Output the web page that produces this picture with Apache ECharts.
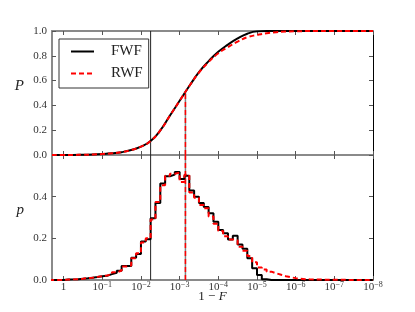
<!DOCTYPE html>
<html><head><meta charset="utf-8">
<script src="https://cdn.jsdelivr.net/npm/echarts@6/dist/echarts.min.js"></script>
<style>html,body{margin:0;padding:0;background:#fff}#c{width:415px;height:312px}</style>
</head><body><div id="c"></div>
<script>
// x values are decades: v = -log10(1 - F)
const xTicks = [0, 1, 2, 3, 4, 5, 6, 7, 8];
const cdfX   = [-0.3, 0, 0.25, 0.5, 0.75, 1.0, 1.25, 1.5, 1.75, 2.0, 2.25, 2.5, 2.75, 3.0, 3.25, 3.5, 3.75, 4.0, 4.25, 4.5, 4.75, 5.0, 5.25, 5.5, 5.75, 6.0, 6.5, 7.0, 7.5, 8.0];
const fwfCdf = [0, 0, 0.0005, 0.002, 0.004, 0.008, 0.014, 0.023, 0.04, 0.068, 0.113, 0.198, 0.318, 0.437, 0.556, 0.668, 0.757, 0.832, 0.89, 0.94, 0.978, 0.997, 1.0, 1.0, 1.0, 1.0, 1.0, 1.0, 1.0, 1.0];
const rwfCdf = [0, 0, 0.0005, 0.002, 0.004, 0.008, 0.014, 0.023, 0.04, 0.068, 0.113, 0.198, 0.318, 0.437, 0.556, 0.665, 0.75, 0.82, 0.87, 0.915, 0.95, 0.968, 0.982, 0.99, 0.995, 0.998, 0.9995, 1.0, 1.0, 1.0];
const binStart = -0.375;
const binWidth = 0.125;
const fwfHist = [0, 0, 0,
  0.002, 0.003, 0.004, 0.006, 0.008, 0.011, 0.014, 0.018, 0.02, 0.028,
  0.035, 0.045, 0.067, 0.067, 0.107, 0.125, 0.185, 0.196, 0.297, 0.37,
  0.463, 0.498, 0.506, 0.519, 0.485, 0.50, 0.43, 0.40, 0.37, 0.35,
  0.32, 0.28, 0.24, 0.225, 0.195, 0.212, 0.17, 0.15, 0.105, 0.056,
  0.024, 0.004, 0, 0, 0, 0, 0, 0, 0, 0,
  0, 0, 0, 0, 0, 0, 0, 0, 0, 0,
  0, 0, 0, 0];
const rwfHist = [0, 0, 0,
  0.002, 0.003, 0.004, 0.006, 0.009, 0.011, 0.015, 0.018, 0.022, 0.027,
  0.037, 0.045, 0.065, 0.07, 0.105, 0.128, 0.18, 0.2, 0.29, 0.375,
  0.455, 0.5, 0.51, 0.515, 0.47, 0.505, 0.42, 0.395, 0.36, 0.345,
  0.305, 0.27, 0.235, 0.21, 0.195, 0.19, 0.16, 0.14, 0.115, 0.085,
  0.06, 0.05, 0.04, 0.032, 0.025, 0.018, 0.013, 0.009, 0.006, 0.004,
  0.003, 0.002, 0.002, 0.0015, 0.001, 0.001, 0.001, 0.0008, 0.0006, 0.0005,
  0.0004, 0.0003, 0.0002, 0.0001];
const lowerCut = 2.25;
const medianFWF = 3.15;
const medianRWF = 3.15;
const medianP = 0.5;

const SERIF = '"Liberation Serif", "DejaVu Serif", serif';
const GRAY = '#8a8a8a';

function pairs(xs, ys) { return xs.map((x, i) => [x, ys[i]]); }
function steps(h) {
  const d = h.map((v, i) => [binStart + i * binWidth, v]);
  d.push([binStart + h.length * binWidth, h[h.length - 1]]);
  return d;
}

function xAx(grid, pos, labels) {
  return {
    type: 'value', gridIndex: grid, position: pos, min: -0.3, max: 8,
    axisLine: { show: true, onZero: false, lineStyle: { color: GRAY, width: 2 } },
    axisTick: { show: true, inside: true, length: 4, customValues: xTicks, lineStyle: { color: '#555', width: 1 } },
    splitLine: { show: false },
    axisLabel: labels ? {
      show: true, margin: 1, customValues: xTicks,
      formatter: v => v === 0 ? '{b|1}' : '{b|10}{s|\u2212' + v + '}',
      rich: {
        b: { fontFamily: SERIF, fontSize: 11, color: '#333', lineHeight: 12, verticalAlign: 'bottom' },
        s: { fontFamily: SERIF, fontSize: 8, color: '#333', lineHeight: 12, verticalAlign: 'top' }
      }
    } : { show: false }
  };
}
function yAx(grid, pos, max, labels, name) {
  const right = pos === 'right';
  return {
    type: 'value', gridIndex: grid, position: pos, min: 0, max: max, interval: 0.2,
    axisLine: { show: true, onZero: false, lineStyle: { color: right ? '#000' : GRAY, width: right ? 1 : 2 } },
    axisTick: { show: true, inside: true, length: 4, lineStyle: { color: '#555', width: 1 } },
    splitLine: { show: false },
    axisLabel: labels ? {
      show: true, margin: 5, fontFamily: SERIF, fontSize: 11, color: '#333',
      formatter: v => (v > max - 1e-9 && max < 1) ? '' : v.toFixed(1)
    } : { show: false },
    name: name || '', nameLocation: 'middle', nameRotate: 0, nameGap: 28, nameMoveOverlap: false,
    nameTextStyle: { fontFamily: SERIF, fontStyle: 'italic', fontSize: 15, color: '#222', lineHeight: 14, verticalAlign: 'bottom' }
  };
}

const xAxes = [xAx(0, 'bottom', false), xAx(0, 'top', false), xAx(1, 'bottom', true), xAx(1, 'top', false)];
xAxes[2].name = '{n|1 \u2212 }{i|F}';
xAxes[2].nameLocation = 'middle';
xAxes[2].nameGap = 10;
xAxes[2].nameMoveOverlap = false;
xAxes[2].nameTextStyle = { rich: {
  n: { fontFamily: SERIF, fontSize: 13, color: '#222' },
  i: { fontFamily: SERIF, fontSize: 13, fontStyle: 'italic', color: '#222' } } };

function vline(name, x, y0, y1, xi, yi, color, width, type, z) {
  return { name: name, type: 'line', xAxisIndex: xi, yAxisIndex: yi, data: [[x, y0], [x, y1]],
    symbol: 'none', silent: true, z: z, lineStyle: { color: color, width: width, type: type } };
}

const option = {
  animation: false,
  backgroundColor: '#fff',
  grid: [
    { left: 52, right: 42, top: 31, height: 124 },
    { left: 52, right: 42, top: 155, height: 125 }
  ],
  xAxis: xAxes,
  yAxis: [yAx(0, 'left', 1, true, 'P'), yAx(0, 'right', 1, false), yAx(1, 'left', 0.6, true, 'p'), yAx(1, 'right', 0.6, false)],
  legend: {
    data: ['FWF', 'RWF'], orient: 'vertical', left: 59, top: 39,
    borderColor: '#333', borderWidth: 1, borderRadius: 0, backgroundColor: '#fff',
    padding: [5, 6, 7, 11], itemWidth: 23, itemHeight: 14, itemGap: 7,
    itemStyle: { opacity: 0 },
    textStyle: { fontFamily: SERIF, fontSize: 15, color: '#222', padding: [0, 0, 0, 12], lineHeight: 14 },
    selectedMode: false
  },
  series: [
    vline('cut', lowerCut, 0, 1, 0, 0, '#222', 1, 'solid', 1),
    vline('medF', medianFWF, 0, medianP, 0, 0, '#808080', 1.5, 'solid', 1),
    vline('medR', medianRWF, 0, medianP, 0, 0, '#ff0000', 1.5, [5, 3], 2),
    vline('cut2', lowerCut, 0, 0.6, 2, 2, '#222', 1, 'solid', 1),
    vline('medF2', medianFWF, 0, 0.6, 2, 2, '#808080', 1.5, 'solid', 1),
    vline('medR2', medianRWF, 0, 0.6, 2, 2, '#ff0000', 1.5, [5, 3], 2),
    { name: 'FWF', type: 'line', xAxisIndex: 0, yAxisIndex: 0, data: pairs(cdfX, fwfCdf), symbol: 'none',
      smooth: 0.5, z: 3, color: '#000', lineStyle: { color: '#000', width: 2 } },
    { name: 'RWF', type: 'line', xAxisIndex: 0, yAxisIndex: 0, data: pairs(cdfX, rwfCdf), symbol: 'none',
      smooth: 0.5, z: 4, color: '#ff0000', lineStyle: { color: '#ff0000', width: 2, type: [5, 3] } },
    { name: 'FWF', type: 'line', xAxisIndex: 2, yAxisIndex: 2, data: steps(fwfHist), step: 'end', symbol: 'none',
      z: 3, color: '#000', lineStyle: { color: '#000', width: 2 } },
    { name: 'RWF', type: 'line', xAxisIndex: 2, yAxisIndex: 2, data: steps(rwfHist), step: 'end', symbol: 'none',
      z: 4, color: '#ff0000', lineStyle: { color: '#ff0000', width: 2, type: [5, 3] } }
  ]
};
const chart = echarts.init(document.getElementById('c'), null, { renderer: 'canvas' });
chart.setOption(option);
</script>
</body></html>
